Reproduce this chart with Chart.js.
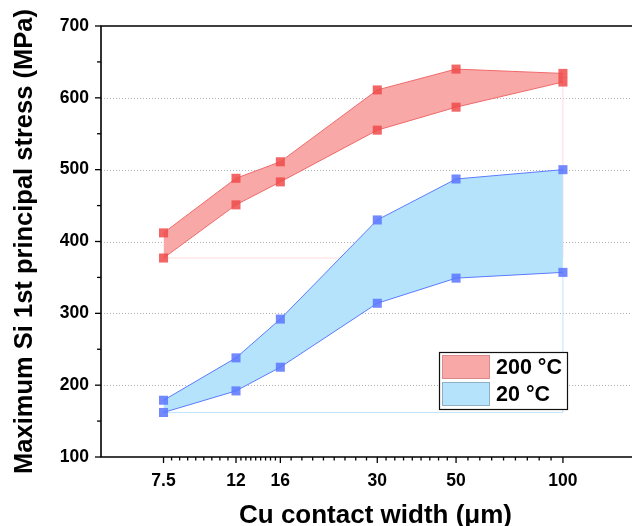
<!DOCTYPE html>
<html>
<head>
<meta charset="utf-8">
<script src="https://cdn.jsdelivr.net/npm/chart.js@4.4.1/dist/chart.umd.min.js"></script>
<style>
html, body { margin: 0; padding: 0; background: #fff; }
#wrap { width: 632px; height: 526px; overflow: hidden; }
</style>
</head>
<body>
<div id="wrap"><canvas id="chart" width="632" height="526"></canvas></div>
<script>
// Si stress vs Cu contact width

const widths   = [7.5, 12, 16, 30, 50, 100];
const hotUpper = [412, 488, 511, 611, 640, 634];
const hotLower = [377, 451, 483, 555, 587, 622];
const rtUpper  = [179, 238, 292, 430, 487, 500];
const rtLower  = [162, 192, 225, 314, 349, 357];
const xTicks   = [7.5, 12, 16, 30, 50, 100];
const yTicks   = [100, 200, 300, 400, 500, 600, 700];
const seriesNames = ["200 °C", "20 °C"];
const xTitle = "Cu contact width (μm)";

const FONT = "'Liberation Sans', Arial, sans-serif";
const RED_FILL  = "#f9a8a8";
const BLUE_FILL = "#b5e3fb";

function pts(ys) {
    return widths.map((w, i) => ({ x: w, y: ys[i] }));
}

// Origin leaves the closing edge of the band polygon visible
function closure(lower) {
    const last = widths.length - 1;
    return [
        { x: widths[0], y: lower[0] },
        { x: widths[last], y: lower[0] },
        { x: widths[last], y: lower[last] },
    ];
}

function bandLine(data, color, marker, fill, fillColor) {
    return {
        data: data,
        borderColor: color,
        borderWidth: 1,
        backgroundColor: fillColor || "transparent",
        fill: fill,
        pointStyle: "rect",
        pointRadius: 6.4,
        pointBorderWidth: 0,
        pointBackgroundColor: marker,
        tension: 0,
    };
}

const axesPlugin = {
    id: "axesDeco",
    beforeDatasetsDraw(chart) {
        const { ctx, chartArea: a, scales: { y } } = chart;
        ctx.save();
        ctx.strokeStyle = "#b0b0b0";
        ctx.lineWidth = 1;
        ctx.setLineDash([1, 2]);
        yTicks.slice(1, -1).forEach(v => {
            const py = Math.round(y.getPixelForValue(v)) + 0.5;
            ctx.beginPath();
            ctx.moveTo(a.left, py);
            ctx.lineTo(chart.width, py);
            ctx.stroke();
        });
        ctx.restore();
    },
    afterDraw(chart) {
        const { ctx, chartArea: a, scales: { x, y } } = chart;
        const W = chart.width;
        ctx.save();
        ctx.strokeStyle = "#000";
        ctx.lineWidth = 1.6;
        ctx.beginPath();
        ctx.moveTo(W, a.top);
        ctx.lineTo(a.left, a.top);
        ctx.lineTo(a.left, a.bottom);
        ctx.lineTo(W, a.bottom);
        ctx.stroke();

        ctx.lineWidth = 1.3;
        // y ticks (outward), one minor between majors
        yTicks.forEach((v, i) => {
            const py = y.getPixelForValue(v);
            ctx.beginPath(); ctx.moveTo(a.left, py); ctx.lineTo(a.left - 6, py); ctx.stroke();
            if (i < yTicks.length - 1) {
                const pm = y.getPixelForValue((v + yTicks[i + 1]) / 2);
                ctx.beginPath(); ctx.moveTo(a.left, pm); ctx.lineTo(a.left - 4, pm); ctx.stroke();
            }
        });
        // x ticks (outward), 8 evenly spaced minors between majors
        xTicks.forEach((v, i) => {
            const p0 = x.getPixelForValue(v);
            ctx.beginPath(); ctx.moveTo(p0, a.bottom); ctx.lineTo(p0, a.bottom + 6); ctx.stroke();
            if (i < xTicks.length - 1) {
                const p1 = x.getPixelForValue(xTicks[i + 1]);
                for (let k = 1; k < 9; k++) {
                    const pm = p0 + (p1 - p0) * k / 9;
                    ctx.beginPath(); ctx.moveTo(pm, a.bottom); ctx.lineTo(pm, a.bottom + 3.5); ctx.stroke();
                }
            }
        });

        // x title: centred on the original (wider) frame, which is cropped on the right
        ctx.fillStyle = "#000";
        ctx.font = "bold 26px " + FONT;
        ctx.textAlign = "center";
        ctx.textBaseline = "alphabetic";
        ctx.fillText(xTitle, 375.5, 523);

        // legend
        const lx = 439, ly = 352, lw = 128, lh = 57;
        ctx.fillStyle = "#fff";
        ctx.fillRect(lx, ly, lw, lh);
        ctx.lineWidth = 1.2;
        ctx.strokeStyle = "#111";
        ctx.strokeRect(lx + 0.5, ly + 0.5, lw, lh);
        const swatches = [
            { fill: RED_FILL, edge: "#d98a8a" },
            { fill: BLUE_FILL, edge: "#8fb0c4" },
        ];
        ctx.font = "bold 21.5px " + FONT;
        ctx.textAlign = "left";
        ctx.textBaseline = "middle";
        seriesNames.forEach((name, i) => {
            const sy = ly + 3 + i * 27;
            ctx.fillStyle = swatches[i].fill;
            ctx.fillRect(lx + 3, sy, 48, 24);
            ctx.strokeStyle = swatches[i].edge;
            ctx.lineWidth = 1;
            ctx.strokeRect(lx + 3.5, sy + 0.5, 47, 23);
            ctx.fillStyle = "#000";
            ctx.fillText(name, lx + 57, sy + 13);
        });
        ctx.restore();
    },
};

new Chart(document.getElementById("chart").getContext("2d"), {
    type: "line",
    data: {
        datasets: [
            bandLine(pts(hotLower), "#f06a6a", "rgba(240,75,75,0.85)", false),
            bandLine(pts(hotUpper), "#f06a6a", "rgba(240,75,75,0.85)", "-1", RED_FILL),
            bandLine(pts(rtLower), "#5b7bff", "rgba(90,118,255,0.85)", false),
            bandLine(pts(rtUpper), "#5b7bff", "rgba(90,118,255,0.85)", "-1", BLUE_FILL),
            { data: closure(hotLower), borderColor: "#fcdcdc", borderWidth: 1, pointRadius: 0, fill: false },
            { data: closure(rtLower), borderColor: "#bfe4f8", borderWidth: 1, pointRadius: 0, fill: false },
        ],
    },
    options: {
        responsive: false,
        animation: false,
        layout: { autoPadding: false, padding: { top: 26, right: 0, left: 0, bottom: 0 } },
        plugins: { legend: { display: false }, tooltip: { enabled: false } },
        scales: {
            x: {
                type: "logarithmic",
                min: 5,
                max: 156.5,
                afterBuildTicks: s => { s.ticks = xTicks.map(v => ({ value: v })); },
                afterFit: s => { s.height = 69; },
                grid: { display: false, drawTicks: false },
                border: { display: false },
                ticks: {
                    autoSkip: false,
                    maxRotation: 0,
                    padding: 14,
                    color: "#000",
                    font: { family: FONT, size: 17.5, weight: "bold" },
                    callback: v => String(v),
                },
                title: { display: false },
            },
            y: {
                type: "linear",
                min: 100,
                max: 700,
                afterBuildTicks: s => { s.ticks = yTicks.map(v => ({ value: v })); },
                afterFit: s => { s.width = 101; },
                grid: { display: false, drawTicks: false },
                border: { display: false },
                ticks: {
                    padding: 12,
                    color: "#000",
                    font: { family: FONT, size: 17.5, weight: "bold" },
                },
                title: {
                    display: true,
                    text: "Maximum Si 1st principal stress (MPa)",
                    color: "#000",
                    font: { family: FONT, size: 25.5, weight: "bold", lineHeight: 1 },
                    padding: { top: 12, bottom: 0 },
                },
            },
        },
    },
    plugins: [axesPlugin],
});
</script>
</body>
</html>
